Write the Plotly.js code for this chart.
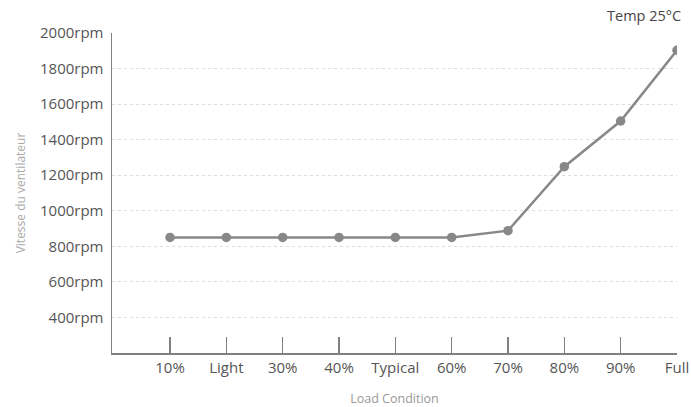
<!DOCTYPE html>
<html>
<head>
<meta charset="utf-8">
<script src="https://cdn.plot.ly/plotly-3.0.1.min.js"></script>
<style>html,body{margin:0;padding:0;background:#fff;}#chart{width:691px;height:407px;}</style>
</head>
<body>
<div id="chart"></div>
<script>
const categories = ["10%", "Light", "30%", "40%", "Typical", "60%", "70%", "80%", "90%", "Full"];
const fanSpeed = [850, 850, 850, 850, 850, 850, 888, 1248, 1505, 1903];
const yTickValues = [400, 600, 800, 1000, 1200, 1400, 1600, 1800, 2000];
const yTickLabels = yTickValues.map(v => v + "rpm");
const xTitle = "Load Condition";
const yTitle = "Vitesse du ventilateur";
const noteText = "Temp 25°C";

const xIdx = categories.map((c, i) => i);

const trace = {
  x: xIdx,
  y: fanSpeed,
  type: "scatter",
  mode: "lines+markers",
  line: {color: "#888888", width: 2.5},
  marker: {color: "#888888", size: 9.5},
  hoverinfo: "skip"
};

const layout = {
  width: 691, height: 407,
  margin: {l: 112, r: 14, t: 33, b: 54},
  paper_bgcolor: "#ffffff",
  plot_bgcolor: "#ffffff",
  showlegend: false,
  font: {family: "Open Sans, sans-serif", color: "#555555", size: 15},
  xaxis: {
    range: [-1.03, 9],
    tickmode: "array",
    tickvals: xIdx,
    ticktext: categories,
    ticks: "inside",
    ticklen: 16,
    tickwidth: 1.2,
    tickcolor: "#808080",
    showline: true,
    linecolor: "#808080",
    linewidth: 1.5,
    showgrid: false,
    zeroline: false,
    tickfont: {size: 15, color: "#555555"},
    title: {text: xTitle, font: {size: 12.5, color: "#999999"}, standoff: 20},
    fixedrange: true
  },
  yaxis: {
    range: [200, 2000],
    tickmode: "array",
    tickvals: yTickValues,
    ticktext: yTickLabels,
    ticks: "",
    ticklabelstandoff: 4,
    showline: true,
    linecolor: "#808080",
    linewidth: 1.5,
    showgrid: true,
    gridcolor: "#dddddd",
    griddash: "dot",
    gridwidth: 1,
    zeroline: false,
    tickfont: {size: 15, color: "#555555"},
    title: {text: yTitle, font: {size: 12, color: "#aaaaaa"}, standoff: 12},
    fixedrange: true
  },
  annotations: [{
    text: noteText,
    xref: "paper", yref: "paper",
    x: 1.01, y: 1.0, xanchor: "right", yanchor: "bottom",
    yshift: 6,
    showarrow: false,
    font: {size: 14.5, color: "#444444"}
  }]
};

Plotly.newPlot("chart", [trace], layout, {displayModeBar: false, staticPlot: true});
</script>
</body>
</html>
